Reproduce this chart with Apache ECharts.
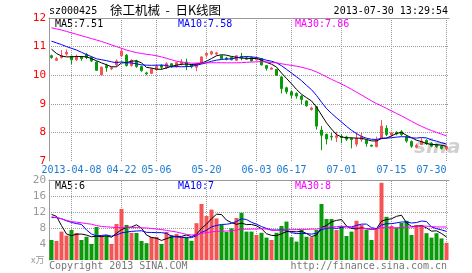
<!DOCTYPE html>
<html>
<head>
    <meta charset="utf-8">
    <title>徐工机械 - 日K线图</title>
    <script src="https://cdn.jsdelivr.net/npm/echarts@6/dist/echarts.min.js"></script>
    <style>
        html, body { margin: 0; padding: 0; background: #fff; }
        #chart1 { width: 472px; height: 273px; }
    </style>
</head>
<body>
<div id="chart1"></div>

<script type="text/javascript">
    // 交易日
    var dates = [
        '2013-03-29', '2013-04-01', '2013-04-02', '2013-04-03', '2013-04-08', '2013-04-09', '2013-04-10', '2013-04-11', '2013-04-12',
        '2013-04-15', '2013-04-16', '2013-04-17', '2013-04-18', '2013-04-19', '2013-04-22', '2013-04-23', '2013-04-24', '2013-04-25',
        '2013-04-26', '2013-05-02', '2013-05-03', '2013-05-06', '2013-05-07', '2013-05-08', '2013-05-09', '2013-05-10', '2013-05-13',
        '2013-05-14', '2013-05-15', '2013-05-16', '2013-05-17', '2013-05-20', '2013-05-21', '2013-05-22', '2013-05-23', '2013-05-24',
        '2013-05-27', '2013-05-28', '2013-05-29', '2013-05-30', '2013-05-31', '2013-06-03', '2013-06-04', '2013-06-05', '2013-06-06',
        '2013-06-07', '2013-06-13', '2013-06-14', '2013-06-17', '2013-06-18', '2013-06-19', '2013-06-20', '2013-06-21', '2013-06-24',
        '2013-06-25', '2013-06-26', '2013-06-27', '2013-06-28', '2013-07-01', '2013-07-02', '2013-07-03', '2013-07-04', '2013-07-05',
        '2013-07-08', '2013-07-09', '2013-07-10', '2013-07-11', '2013-07-12', '2013-07-15', '2013-07-16', '2013-07-17', '2013-07-18',
        '2013-07-19', '2013-07-22', '2013-07-23', '2013-07-24', '2013-07-25', '2013-07-26', '2013-07-29', '2013-07-30'
    ];
    var tickDates = ['2013-04-08', '2013-04-22', '2013-05-06', '2013-05-20', '2013-06-03', '2013-06-17', '2013-07-01', '2013-07-15', '2013-07-30'];

    var opens = [
        10.68, 10.52, 10.62, 10.74, 10.66, 10.54, 10.64, 10.72, 10.62, 10.46,
        10.01, 10.33, 10.22, 10.36, 10.68, 10.70, 10.34, 10.50, 10.30, 10.08,
        10.06, 10.20, 10.34, 10.26, 10.40, 10.30, 10.40, 10.46, 10.36, 10.28,
        10.42, 10.70, 10.74, 10.74, 10.68, 10.60, 10.62, 10.52, 10.66, 10.60,
        10.62, 10.54, 10.58, 10.34, 10.21, 10.20, 9.94, 9.56, 9.42, 9.36,
        9.27, 9.10, 8.80, 8.90, 8.08, 7.93, 7.86, 7.82, 7.86, 7.84,
        7.79, 7.59, 7.75, 7.73, 7.55, 7.50, 7.79, 8.14, 7.91, 8.00,
        8.02, 7.85, 7.68, 7.48, 7.58, 7.72, 7.62, 7.56, 7.52, 7.42
    ];
    var closes = [
        10.62, 10.58, 10.68, 10.80, 10.54, 10.66, 10.58, 10.62, 10.50, 10.17,
        10.28, 10.26, 10.26, 10.50, 10.84, 10.34, 10.52, 10.30, 10.16, 10.05,
        10.22, 10.32, 10.28, 10.40, 10.32, 10.44, 10.46, 10.34, 10.30, 10.40,
        10.64, 10.76, 10.82, 10.78, 10.58, 10.56, 10.54, 10.68, 10.62, 10.56,
        10.50, 10.58, 10.36, 10.24, 10.25, 10.00, 9.53, 9.42, 9.30, 9.27,
        9.15, 8.93, 8.85, 8.22, 7.90, 7.77, 7.84, 7.88, 7.82, 7.76,
        7.75, 7.79, 7.85, 7.61, 7.52, 7.73, 8.22, 7.93, 7.99, 7.95,
        7.92, 7.70, 7.52, 7.54, 7.70, 7.60, 7.52, 7.50, 7.44, 7.50
    ];
    var lows = [
        10.58, 10.50, 10.58, 10.68, 10.38, 10.50, 10.50, 10.56, 10.46, 10.15,
        10.00, 10.12, 10.18, 10.30, 10.64, 10.30, 10.30, 10.26, 10.12, 10.00,
        10.04, 10.16, 10.20, 10.22, 10.26, 10.26, 10.34, 10.18, 10.24, 10.14,
        10.40, 10.62, 10.70, 10.70, 10.56, 10.52, 10.52, 10.50, 10.52, 10.54,
        10.48, 10.50, 10.34, 10.16, 10.20, 9.98, 9.36, 9.34, 9.20, 9.18,
        8.98, 8.90, 8.76, 8.10, 7.38, 7.58, 7.72, 7.66, 7.62, 7.70,
        7.44, 7.50, 7.67, 7.50, 7.50, 7.48, 7.76, 7.87, 7.88, 7.90,
        7.88, 7.64, 7.46, 7.44, 7.55, 7.56, 7.48, 7.46, 7.40, 7.38
    ];
    var highs = [
        10.72, 10.64, 10.88, 10.90, 10.68, 10.72, 10.66, 10.78, 10.66, 10.48,
        10.30, 10.40, 10.30, 10.55, 10.92, 10.74, 10.56, 10.54, 10.34, 10.12,
        10.24, 10.34, 10.38, 10.46, 10.42, 10.46, 10.56, 10.58, 10.38, 10.42,
        10.66, 10.82, 10.86, 10.82, 10.70, 10.64, 10.64, 10.70, 10.78, 10.66,
        10.66, 10.64, 10.60, 10.36, 10.28, 10.22, 9.96, 9.60, 9.46, 9.40,
        9.30, 9.12, 8.90, 8.92, 8.22, 7.96, 8.00, 8.02, 7.94, 7.88,
        7.82, 8.00, 8.00, 7.75, 7.57, 7.85, 8.43, 8.25, 8.02, 8.04,
        8.08, 7.90, 7.72, 7.60, 7.80, 7.76, 7.66, 7.60, 7.54, 7.54
    ];
    // 成交量(万手)
    var volumes = [
        5.0, 4.75, 7.1, 6.1, 7.5, 6.75, 5.0, 5.8, 4.0, 8.25,
        6.1, 6.1, 4.0, 9.0, 12.75, 8.75, 6.75, 6.75, 4.75, 4.2,
        5.75, 5.75, 4.0, 7.0, 6.2, 6.5, 5.8, 5.8, 4.8, 9.2,
        14.0, 11.0, 12.6, 10.4, 8.8, 7.0, 7.9, 10.5, 11.8, 7.1,
        7.1, 6.25, 6.8, 5.6, 5.0, 6.8, 8.5, 9.6, 5.7, 4.6,
        7.5, 5.8, 5.7, 7.5, 14.0, 10.25, 10.25, 7.5, 8.5, 6.0,
        7.1, 9.8, 8.75, 7.6, 5.0, 7.9, 19.3, 10.8, 8.5, 8.1,
        9.25, 9.8, 6.25, 8.75, 8.75, 6.7, 5.6, 6.7, 5.4, 4.3
    ];

    // 窗口之前的均线
    var ma5Head = [10.91, 10.76, 10.67, 10.64];
    var ma10Head = [11.19, 11.13, 11.07, 11.00, 10.94, 10.88, 10.80, 10.72, 10.65];
    var ma30Head = [11.66, 11.62, 11.58, 11.53, 11.48, 11.43, 11.38, 11.33, 11.28, 11.23,
        11.18, 11.12, 11.06, 11.00, 10.94, 10.88, 10.83, 10.79, 10.76, 10.73,
        10.71, 10.68, 10.64, 10.59, 10.54, 10.49, 10.46, 10.44, 10.42];
    var volMa5Head = [11.4, 10.9, 8.6, 6.5];
    var volMa10Head = [10.6, 10.6, 10.3, 9.8, 9.4, 9.1, 8.9, 7.5, 6.5];
    var volMa30Head = [10.8, 10.6, 10.3, 9.9, 9.6, 9.45, 9.3, 9.1, 8.95, 8.6,
        8.4, 8.3, 8.2, 8.1, 8.1, 8.1, 8.1, 8.1, 8.05, 8.0,
        7.9, 7.75, 7.6, 7.4, 7.2, 7.0, 6.7, 6.4, 6.25];

    var stockCode = 'sz000425';
    var titleText = '徐工机械  -  日K线图';
    var timeText = '2013-07-30 13:29:54';
    var priceMaText = ['MA5:7.51', 'MA10:7.58', 'MA30:7.86'];
    var volMaText = ['MA5:6', 'MA10:7', 'MA30:8'];

    var upColor = '#f55454';
    var downColor = '#0a9a0a';
    var gridColor = '#999';
    var mono = '"DejaVu Sans Mono"';
    var priceRange = [7, 12];
    var volRange = [0, 20];

    function calcMA(head, values, n) {
        var out = [];
        for (var i = 0; i < values.length; i++) {
            if (i < n - 1) {
                out.push(head[i]);
                continue;
            }
            var sum = 0;
            for (var j = i - n + 1; j <= i; j++) {
                sum += values[j];
            }
            out.push(+(sum / n).toFixed(3));
        }
        return out;
    }

    var candles = dates.map(function (d, i) {
        return [opens[i], closes[i], lows[i], highs[i]];
    });
    var volBars = volumes.map(function (v, i) {
        return {value: v, itemStyle: {color: closes[i] >= opens[i] ? upColor : downColor}};
    });

    // 竖向网格线: 每个刻度日期一条从下到上的虚线(挂在顶部类目轴上)
    function vGridLines(xi, yi, range) {
        return tickDates.map(function (d) {
            var idx = dates.indexOf(d);
            return {
                type: 'line', xAxisIndex: xi, yAxisIndex: yi, silent: true, z: 1,
                symbol: 'none', showSymbol: false,
                data: [[idx, range[0]], [idx, range[1]]],
                lineStyle: {color: gridColor, type: 'dotted', width: 1}
            };
        });
    }

    function maLine(name, data, color, xi, yi) {
        return {
            name: name, type: 'line', data: data, xAxisIndex: xi, yAxisIndex: yi,
            showSymbol: false, symbol: 'none', silent: true,
            lineStyle: {color: color, width: 1}
        };
    }

    function text(left, top, str, color, font) {
        return {type: 'text', left: left, top: top, silent: true,
            style: {text: str, fill: color, font: font || ('10px ' + mono)}};
    }

    var myChart = echarts.init(document.getElementById('chart1'));
    myChart.setOption({
        animation: false,
        backgroundColor: '#fff',
        grid: [
            {left: 49, top: 18, width: 400, height: 143},
            {left: 49, top: 180, width: 400, height: 80}
        ],
        xAxis: [
            {
                type: 'category', gridIndex: 0, data: dates, boundaryGap: true,
                axisLine: {show: false}, axisTick: {show: false}, splitLine: {show: false},
                axisLabel: {
                    interval: function (index, value) {
                        return tickDates.indexOf(value) >= 0;
                    },
                    formatter: function (value) {
                        return value === tickDates[0] ? value : value.slice(5);
                    },
                    color: '#1b7ad2', fontFamily: 'DejaVu Sans Mono', fontSize: 10, margin: 4,
                    alignMaxLabel: 'right'
                }
            },
            {
                type: 'category', gridIndex: 0, data: dates, position: 'top', boundaryGap: true,
                axisLine: {show: true, lineStyle: {color: '#999', width: 1}},
                axisTick: {show: false}, axisLabel: {show: false}, splitLine: {show: false}
            },
            {
                type: 'category', gridIndex: 1, data: dates, boundaryGap: true,
                axisLine: {show: false}, axisTick: {show: false}, axisLabel: {show: false}, splitLine: {show: false}
            },
            {
                type: 'category', gridIndex: 1, data: dates, position: 'top', boundaryGap: true,
                axisLine: {show: true, lineStyle: {color: '#999', width: 1}},
                axisTick: {show: false}, axisLabel: {show: false}, splitLine: {show: false}
            }
        ],
        yAxis: [
            {
                type: 'value', gridIndex: 0, min: priceRange[0], max: priceRange[1], interval: 1,
                axisLine: {show: true, lineStyle: {color: '#999'}},
                axisTick: {show: false},
                axisLabel: {color: '#ff0000', fontFamily: 'DejaVu Sans Mono', fontSize: 11, margin: 3},
                splitLine: {show: true, showMinLine: false, lineStyle: {color: gridColor, type: 'dotted'}}
            },
            {
                type: 'value', gridIndex: 1, min: volRange[0], max: volRange[1], interval: 4,
                axisLine: {show: true, lineStyle: {color: '#999'}},
                axisTick: {show: false},
                axisLabel: {
                    color: '#999', fontFamily: 'DejaVu Sans Mono', fontSize: 11, margin: 3,
                    formatter: function (v) {
                        return v === 0 ? '' : v;
                    }
                },
                splitLine: {show: true, showMinLine: false, lineStyle: {color: gridColor, type: 'dotted'}}
            }
        ],
        series: vGridLines(1, 0, priceRange).concat(vGridLines(3, 1, volRange)).concat([
            {
                name: '日K', type: 'candlestick', data: candles, xAxisIndex: 0, yAxisIndex: 0,
                barWidth: 3,
                itemStyle: {color: upColor, color0: downColor, borderColor: upColor, borderColor0: downColor, borderWidth: 1}
            },
            maLine('MA5', calcMA(ma5Head, closes, 5), '#000', 0, 0),
            maLine('MA10', calcMA(ma10Head, closes, 10), '#0000ff', 0, 0),
            maLine('MA30', calcMA(ma30Head, closes, 30), '#ff00ff', 0, 0),
            {
                name: '成交量', type: 'bar', data: volBars, xAxisIndex: 2, yAxisIndex: 1,
                barWidth: 4
            },
            maLine('VMA5', calcMA(volMa5Head, volumes, 5), '#000', 2, 1),
            maLine('VMA10', calcMA(volMa10Head, volumes, 10), '#0000ff', 2, 1),
            maLine('VMA30', calcMA(volMa30Head, volumes, 30), '#ff00ff', 2, 1)
        ]),
        graphic: [
            {type: 'text', left: 414, top: 138, silent: true,
                style: {text: 'sina', fill: '#d0d0d0', font: 'italic bold 20px "DejaVu Sans"'}},
            text(49, 6, stockCode, '#000'),
            text(110, 4, titleText, '#000', '12.5px "Noto Sans CJK SC"'),
            {type: 'text', right: 24, top: 6, silent: true,
                style: {text: timeText, fill: '#000', font: '10px ' + mono}},
            text(55, 19, priceMaText[0], '#000'),
            text(178, 19, priceMaText[1], '#0000ff'),
            text(295, 19, priceMaText[2], '#ff00ff'),
            text(55, 181, volMaText[0], '#000'),
            text(178, 181, volMaText[1], '#0000ff'),
            text(295, 181, volMaText[2], '#ff00ff'),
            text(31, 255, 'x万', '#999', '9px "Noto Sans CJK SC"'),
            text(49, 261, 'Copyright 2013 SINA.COM', '#777'),
            {type: 'text', right: 25, top: 261, silent: true,
                style: {text: 'http://finance.sina.com.cn', fill: '#777', font: '10px ' + mono}}
        ]
    });
</script>
</body>
</html>
